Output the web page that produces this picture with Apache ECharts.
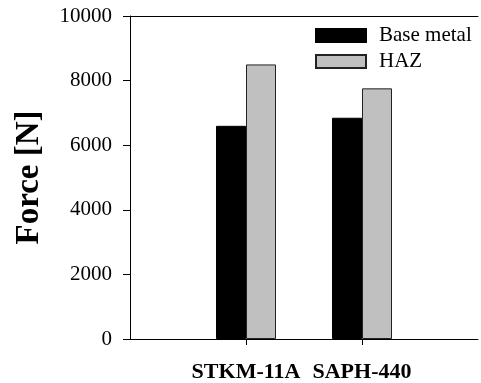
<!DOCTYPE html>
<html>
<head>
<meta charset="utf-8">
<script src="https://cdn.jsdelivr.net/npm/echarts@6/dist/echarts.min.js"></script>
<style>
html, body { margin: 0; padding: 0; background: #fff; }
#chart { width: 481px; height: 383px; }
</style>
</head>
<body>
<div id="chart"></div>
<script>
const categories = ['STKM-11A', 'SAPH-440']
const baseMetal = [6600, 6850]
const haz = [8500, 7760]
const yTicks = [0, 2000, 4000, 6000, 8000, 10000]

// pad with empty slots so the groups sit at 1 and 2 on a 0..3 axis
const axisData = [''].concat(categories, [''])
const pad = arr => [null].concat(arr, [null])

const font = 'Liberation Serif, Times New Roman, serif'

const chart = echarts.init(document.getElementById('chart'))
chart.setOption({
  animation: false,
  grid: {
    left: 130,
    width: 354,
    top: 16,
    bottom: 42
  },
  legend: {
    orient: 'vertical',
    left: 310,
    top: 20,
    icon: 'rect',
    itemWidth: 50,
    itemHeight: 13,
    itemGap: 5,
    textStyle: {
      fontFamily: font,
      fontSize: 21,
      color: '#000',
      lineHeight: 20,
      padding: [0, 0, 0, 8]
    },
    data: ['Base metal', 'HAZ']
  },
  xAxis: [
    {
      type: 'category',
      data: axisData,
      boundaryGap: false,
      axisLine: { lineStyle: { color: '#000', width: 1 } },
      axisTick: {
        length: 6,
        interval: (idx, val) => val !== '',
        lineStyle: { color: '#000' }
      },
      axisLabel: {
        interval: 0,
        margin: 22,
        fontFamily: font,
        fontSize: 22,
        fontWeight: 'bold',
        color: '#000'
      },
      splitLine: { show: false }
    },
    {
      // top frame line
      type: 'category',
      position: 'top',
      data: axisData,
      boundaryGap: false,
      axisLine: { lineStyle: { color: '#000', width: 1 } },
      axisTick: { show: false },
      axisLabel: { show: false }
    }
  ],
  yAxis: {
    type: 'value',
    min: yTicks[0],
    max: yTicks[yTicks.length - 1],
    interval: 2000,
    name: 'Force [N]',
    nameLocation: 'middle',
    nameGap: 84,
    nameTextStyle: {
      fontFamily: font,
      fontSize: 33,
      fontWeight: 'bold',
      color: '#000'
    },
    axisLine: { show: true, lineStyle: { color: '#000', width: 1 } },
    axisTick: { show: true, length: 7, lineStyle: { color: '#000' } },
    axisLabel: {
      margin: 18,
      fontFamily: font,
      fontSize: 21,
      color: '#000',
      formatter: v => String(v)
    },
    splitLine: { show: false }
  },
  series: [
    {
      name: 'Base metal',
      type: 'bar',
      data: pad(baseMetal),
      barWidth: 30,
      barGap: '0%',
      itemStyle: { color: '#000', borderColor: '#000', borderWidth: 1 }
    },
    {
      name: 'HAZ',
      type: 'bar',
      data: pad(haz),
      barWidth: 30,
      barGap: '0%',
      itemStyle: { color: '#c0c0c0', borderColor: '#222', borderWidth: 1 }
    }
  ]
})
</script>
</body>
</html>
